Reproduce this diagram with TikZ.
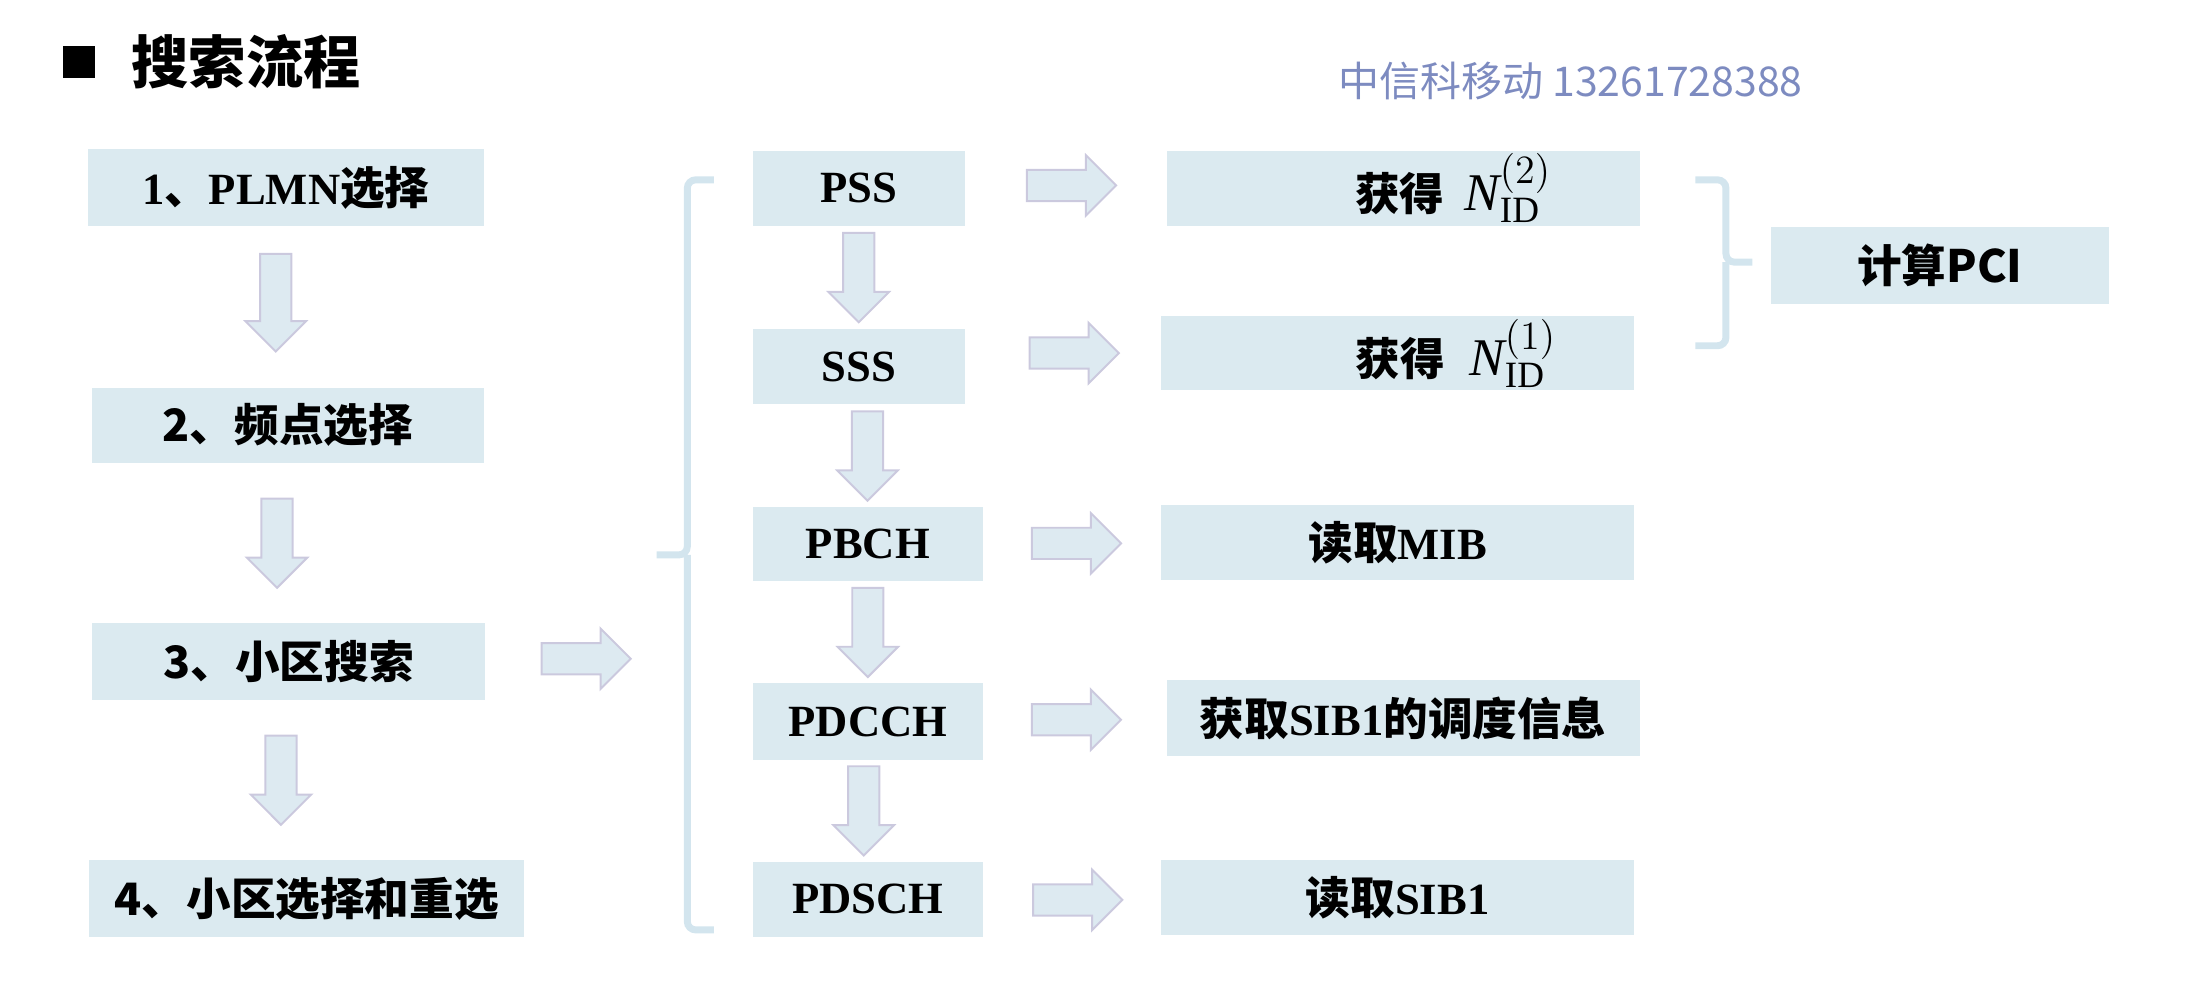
\documentclass[tikz,border=0pt]{standalone}
\usepackage{fontspec}
\setmainfont{Liberation Serif}
\newfontfamily\cjk{Noto Sans CJK SC}
\usetikzlibrary{shapes.arrows,calc}
\definecolor{boxblue}{HTML}{DBEAF0}
\definecolor{arrowfill}{HTML}{DDEAF1}
\definecolor{arrowline}{HTML}{CBC9DE}
\definecolor{bracketc}{HTML}{D3E5EE}
\definecolor{wmark}{HTML}{7D8BC0}
\newcommand\zh[1]{{\cjk\bfseries #1}}
\newcommand\nid[1]{{\fontsize{19}{20}\selectfont$\mathit{N}^{(#1)}_{\mathrm{ID}}$}}
\begin{document}
\begin{tikzpicture}[x=0.5pt,y=-0.5pt,
  box/.style={fill=boxblue, inner sep=0pt, font=\fontsize{16}{18}\selectfont\bfseries, text=black},
  fat/.style={single arrow, single arrow head extend=5.25pt, minimum width=21pt,
    minimum height=32pt, inner xsep=0pt, inner ysep=5.25pt, text height=0pt, text depth=0pt,
    fill=arrowfill, draw=arrowline, line width=0.7pt},
  fatdown/.style={fat, rotate=-90},
  bracketline/.style={draw=bracketc, line width=2.5pt, rounded corners=3pt}]
\useasboundingbox (0,0) rectangle (1568,709);
% title
\node[fill=black, minimum size=11.5pt, inner sep=0pt] (bullet) at (56.5,44.5) {};
\node[font=\fontsize{20.5}{22}\selectfont\cjk\bfseries, inner sep=0pt] (title) at (176.5,44) {搜索流程};
\node[font=\fontsize{14.7}{16}\selectfont\cjk, text=wmark, inner sep=0pt] (wm) at (1126.5,58) {中信科移动 13261728388};
% left column
\node[box, minimum width=142pt, minimum height=27.5pt] (L1) at (205,134.5) {1\zh{、}PLMN\zh{选择}};
\node[box, minimum width=140.5pt, minimum height=27pt] (L2) at (206.5,305) {\zh{2、频点选择}};
\node[box, minimum width=141pt, minimum height=27.5pt] (L3) at (207,474.5) {\zh{3、小区搜索}};
\node[box, minimum width=156pt, minimum height=27.5pt] (L4) at (220,644.5) {\zh{4、小区选择和重选}};
\node[fatdown, minimum height=35pt] (a1) at ($(L1.south)!0.5!(L2.north)+(-8,-8.5)$) {};
\node[fatdown, minimum height=32pt] (a2) at ($(L2.south)!0.5!(L3.north)+(-8,-5.5)$) {};
\node[fatdown, minimum height=32pt] (a3) at ($(L3.south)!0.5!(L4.north)+(-12,-5.5)$) {};
\node[fat] (a4) at ($(L3.east)+(66.5,-2)$) {};
% left bracket
\coordinate (lbt) at (512,129);
\coordinate (lbm) at (471,398);
\coordinate (lbb) at (512,667);
\draw[bracketline] (lbt) -| (493,398) -- (lbm);
\draw[bracketline] (493,398) |- (lbb);
% middle column
\node[box, minimum width=76pt, minimum height=27pt] (PSS) at (616,135) {PSS};
\node[box, minimum width=76pt, minimum height=27pt] (SSS) at (616,263) {SSS};
\node[box, minimum width=82.5pt, minimum height=26.5pt] (PBCH) at (622.5,390.5) {PBCH};
\node[box, minimum width=82.5pt, minimum height=27.5pt] (PDCCH) at (622.5,517.5) {PDCCH};
\node[box, minimum width=82.5pt, minimum height=27pt] (PDSCH) at (622.5,645) {PDSCH};
\node[fatdown] (m1) at ($(PSS.south)!0.5!(SSS.north)+(0,-5.5)$) {};
\node[fatdown] (m2) at ($(SSS.south)!0.5!(PBCH.north)+(3,-5.5)$) {};
\node[fatdown] (m3) at ($(PBCH.south)!0.5!(PDCCH.north)+(0,-5.5)$) {};
\node[fatdown] (m4) at ($(PDCCH.south)!0.5!(PDSCH.north)+(-3,-5.5)$) {};
% right column
\node[box, minimum width=169.5pt, minimum height=27pt] (R1) at (1006.5,135) {\hspace*{36pt}\zh{获得}\hspace{0.45em}\nid{2}};
\node[box, minimum width=169.5pt, minimum height=26.5pt] (R2) at (1002.5,253.5) {\hspace*{42pt}\zh{获得}\hspace{0.55em}\nid{1}};
\node[box, minimum width=169.5pt, minimum height=27pt] (R3) at (1002.5,389) {\zh{读取}MIB};
\node[box, minimum width=169.5pt, minimum height=27pt] (R4) at (1006.5,515) {\zh{获取}SIB1\zh{的调度信息}};
\node[box, minimum width=169.5pt, minimum height=27pt] (R5) at (1002.5,644) {\zh{读取}SIB1};
\node[fat] (h1) at ($(PSS.east)!0.5!(R1.west)+(-1.5,-2)$) {};
\node[fat] (h2) at ($(SSS.east)!0.5!(R2.west)+(2.5,-5)$) {};
\node[fat] (h3) at ($(PBCH.east)!0.5!(R3.west)+(-2.5,0)$) {};
\node[fat] (h4) at ($(PDCCH.east)!0.5!(R4.west)+(-4.5,0)$) {};
\node[fat] (h5) at ($(PDSCH.east)!0.5!(R5.west)+(-1.5,1)$) {};
% right bracket and PCI
\node[box, minimum width=121.5pt, minimum height=27.5pt] (PCI) at (1391.5,190.5) {\zh{计算PCI}};
\coordinate (rbt) at (1216,129);
\coordinate (rbm) at (1257,188);
\coordinate (rbb) at (1216,248);
\draw[bracketline] (rbt) -| (1238,188) -- (rbm);
\draw[bracketline] (1238,188) |- (rbb);
\end{tikzpicture}
\end{document}
